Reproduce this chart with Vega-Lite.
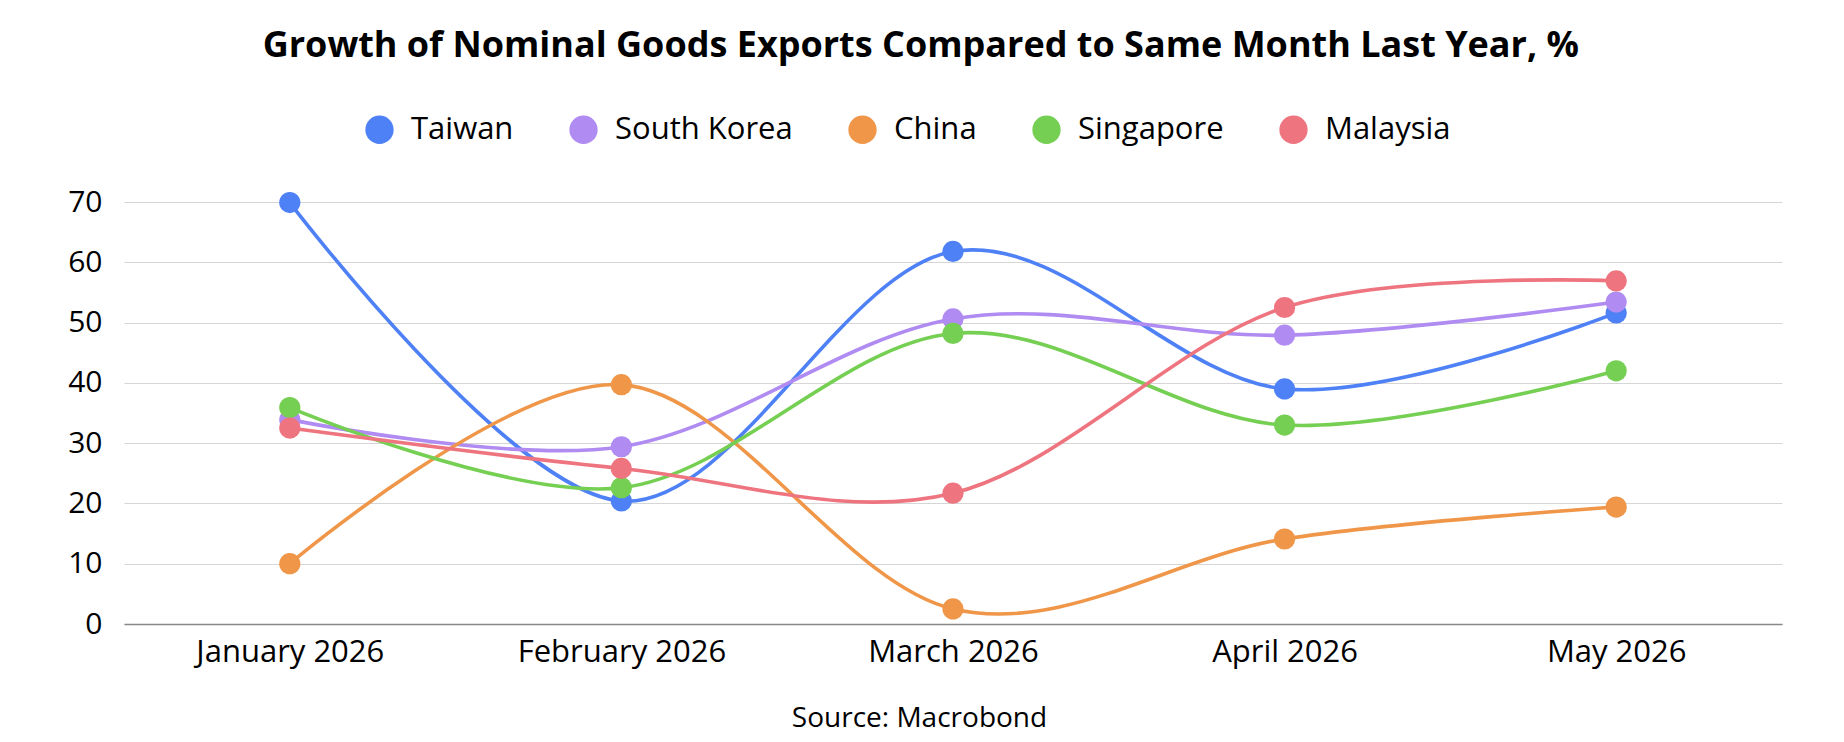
{
  "$schema": "https://vega.github.io/schema/vega-lite/v6.json",
  "autosize": {"type": "none"},
  "width": 1658,
  "height": 422,
  "padding": {"left": 124, "top": 202, "right": 62, "bottom": 118},
  "background": "white",
  "config": {
    "font": "Open Sans",
    "view": {"stroke": null}
  },
  "title": {
    "text": "Growth of Nominal Goods Exports Compared to Same Month Last Year, %",
    "fontSize": 36,
    "fontWeight": "bold",
    "color": "#000000",
    "anchor": "middle",
    "frame": "bounds",
    "dx": -4,
    "offset": 49
  },
  "data": {
    "values": [
      {"month": "January 2026", "country": "Taiwan", "value": 69.9},
      {"month": "February 2026", "country": "Taiwan", "value": 20.4},
      {"month": "March 2026", "country": "Taiwan", "value": 61.8},
      {"month": "April 2026", "country": "Taiwan", "value": 39.0},
      {"month": "May 2026", "country": "Taiwan", "value": 51.6},
      {"month": "January 2026", "country": "South Korea", "value": 33.9},
      {"month": "February 2026", "country": "South Korea", "value": 29.4},
      {"month": "March 2026", "country": "South Korea", "value": 50.6},
      {"month": "April 2026", "country": "South Korea", "value": 47.9},
      {"month": "May 2026", "country": "South Korea", "value": 53.4},
      {"month": "January 2026", "country": "China", "value": 10.0},
      {"month": "February 2026", "country": "China", "value": 39.7},
      {"month": "March 2026", "country": "China", "value": 2.5},
      {"month": "April 2026", "country": "China", "value": 14.1},
      {"month": "May 2026", "country": "China", "value": 19.4},
      {"month": "January 2026", "country": "Singapore", "value": 35.9},
      {"month": "February 2026", "country": "Singapore", "value": 22.6},
      {"month": "March 2026", "country": "Singapore", "value": 48.2},
      {"month": "April 2026", "country": "Singapore", "value": 33.0},
      {"month": "May 2026", "country": "Singapore", "value": 42.0},
      {"month": "January 2026", "country": "Malaysia", "value": 32.5},
      {"month": "February 2026", "country": "Malaysia", "value": 25.8},
      {"month": "March 2026", "country": "Malaysia", "value": 21.7},
      {"month": "April 2026", "country": "Malaysia", "value": 52.5},
      {"month": "May 2026", "country": "Malaysia", "value": 56.9}
    ]
  },
  "encoding": {
    "x": {
      "field": "month",
      "type": "ordinal",
      "sort": ["January 2026", "February 2026", "March 2026", "April 2026", "May 2026"],
      "scale": {"type": "point", "padding": 0.5},
      "axis": {
        "title": "Source: Macrobond",
        "titleFontSize": 28,
        "titleFontWeight": "normal",
        "titleColor": "#000000",
        "titleX": 795,
        "titleY": 94,
        "titleBaseline": "middle",
        "labelAngle": 0,
        "labelFontSize": 31,
        "labelColor": "#000000",
        "labelPadding": 13,
        "labelLimit": 400,
        "ticks": false,
        "domainColor": "#888888",
        "domainWidth": 1.5,
        "grid": false
      }
    },
    "y": {
      "field": "value",
      "type": "quantitative",
      "scale": {"domain": [0, 70], "nice": false},
      "axis": {
        "title": null,
        "values": [0, 10, 20, 30, 40, 50, 60, 70],
        "labelFontSize": 30,
        "labelColor": "#000000",
        "labelPadding": 22,
        "ticks": false,
        "domain": false,
        "gridColor": "#d6d6d6",
        "gridWidth": 1.2
      }
    },
    "color": {
      "field": "country",
      "type": "nominal",
      "scale": {
        "domain": ["Taiwan", "South Korea", "China", "Singapore", "Malaysia"],
        "range": ["#4f81f6", "#b08bf1", "#ef9649", "#75cf52", "#ee747f"]
      },
      "legend": {
        "title": null,
        "orient": "none",
        "legendX": 240,
        "legendY": -88,
        "direction": "horizontal",
        "symbolType": "circle",
        "symbolSize": 800,
        "symbolStrokeWidth": 0,
        "symbolOpacity": 1,
        "labelFontSize": 31,
        "labelColor": "#000000",
        "labelOffset": 16,
        "columnPadding": 54,
        "labelLimit": 400
      }
    }
  },
  "layer": [
    {
      "mark": {"type": "line", "interpolate": "cardinal", "strokeWidth": 3.6}
    },
    {
      "mark": {"type": "point", "filled": true, "opacity": 1, "size": 450}
    }
  ]
}
